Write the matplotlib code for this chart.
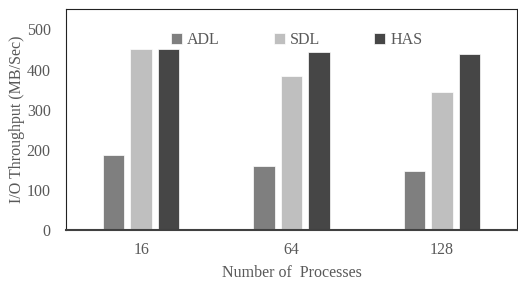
import matplotlib
matplotlib.use("Agg")
import matplotlib.pyplot as plt
import numpy as np

categories = ["16", "64", "128"]
series_names = ["ADL", "SDL", "HAS"]
adl = [187, 159, 146]
sdl = [451, 383, 344]
has = [451, 444, 439]
yticks = [0, 100, 200, 300, 400, 500]

colors = ["#7f7f7f", "#bfbfbf", "#464646"]
text_color = "#595959"

plt.rcParams['font.family'] = ['Liberation Serif', 'DejaVu Serif']
FS = 11.5

fig = plt.figure(figsize=(5.18, 2.81), dpi=100)
ax = fig.add_axes([66/518, 1-230/281, (517-66)/518, (230-9)/281])

x = np.arange(len(categories))
width = 0.143
step = 0.183
for i, (name, vals) in enumerate(zip(series_names, [adl, sdl, has])):
    ax.bar(x + (i-1)*step, vals, width, color=colors[i], label=name,
           edgecolor="white", linewidth=0.5, zorder=2)

ax.set_xlim(-0.5, 2.5)
ax.set_ylim(0, 551)
ax.set_yticks(yticks)
ax.set_xticks(x)
ax.set_xticklabels(categories)
ax.tick_params(axis='both', length=0, colors=text_color, labelsize=FS)
ax.tick_params(axis='x', pad=9)
ax.tick_params(axis='y', pad=11)
ax.set_yticks([0], minor=True)
ax.tick_params(axis='y', which='minor', length=4, color="#404040", width=1)

for s in ["left", "top", "right"]:
    ax.spines[s].set_color("#222222")
    ax.spines[s].set_linewidth(0.8)
ax.spines["bottom"].set_color("#404040")
ax.spines["bottom"].set_linewidth(1.5)

ax.set_xlabel("Number of  Processes", color=text_color, fontsize=FS, labelpad=5)
ax.set_ylabel("I/O Throughput (MB/Sec)", color=text_color, fontsize=FS, labelpad=1.5)

leg = ax.legend(loc="upper left", bbox_to_anchor=(0.232, 0.896), ncol=3, frameon=False,
                borderpad=0, borderaxespad=0,
                handlelength=0.7, handleheight=0.7, handletextpad=0.3,
                columnspacing=3.4, fontsize=FS, labelcolor=text_color)

fig.savefig("out.png", dpi=100)
